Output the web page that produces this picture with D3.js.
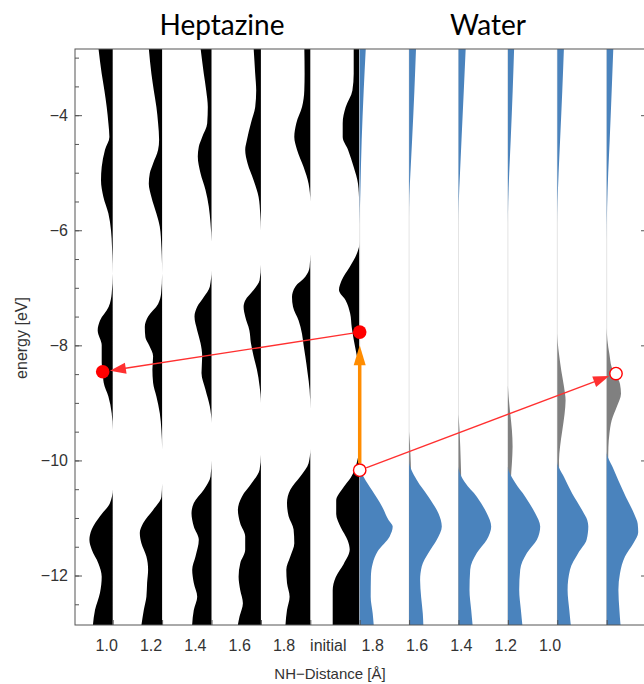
<html>
<head><meta charset="utf-8"></head>
<body style="margin:0;background:white">
<svg id="svg" width="644" height="684"></svg>
<script src="https://cdn.jsdelivr.net/npm/d3@7"></script>
<script>

// column labels along the x axis (left: heptazine, right: water)
var columns = ["1.0", "1.2", "1.4", "1.6", "1.8", "initial", "1.8", "1.6", "1.4", "1.2", "1.0"];
var majorTicks = [-12, -10, -8, -6, -4];
var minorTicks = d3.range(-12.5, -2.9, 0.5);

// DOS per column, [energy eV, density arb.]
var hept10 = [[-2.8,1.45],[-3.28,1.1],[-3.57,0.83],[-3.86,0.6],[-4.14,0.43],[-4.38,0.33],[-4.6,0.77],[-4.9,1.1],[-5.13,1.17],[-5.42,0.93],[-5.71,0.43],[-6.0,0.17],[-6.29,0.07],[-6.75,0],[-7.1,0.1],[-7.33,0.4],[-7.57,1.27],[-7.74,1.5],[-8.0,1.1],[-8.3,1.1],[-8.45,1.0],[-8.65,0.9],[-8.89,0.43],[-9.18,0.1],[-9.47,0],[-10.5,0],[-10.74,0.27],[-10.97,1.27],[-11.2,2.1],[-11.38,2.33],[-11.55,2.1],[-11.79,1.43],[-12.02,1.1],[-12.3,1.27],[-12.6,1.77],[-12.9,2.0]];
var hept12 = [[-2.8,1.35],[-3.28,1.07],[-3.57,0.83],[-3.86,0.57],[-4.14,0.4],[-4.43,0.3],[-4.6,0.4],[-4.84,0.9],[-5.01,1.23],[-5.19,1.33],[-5.42,1.07],[-5.71,0.57],[-5.94,0.23],[-6.29,0.07],[-6.75,0],[-7.1,0.1],[-7.28,0.4],[-7.5,1.4],[-7.68,1.73],[-7.86,1.67],[-8.0,1.3],[-8.19,0.9],[-8.42,0.97],[-8.65,0.9],[-8.89,0.57],[-9.18,0.23],[-9.47,0.07],[-9.8,0],[-10.4,0],[-10.63,0.07],[-10.86,0.9],[-11.09,1.9],[-11.26,2.23],[-11.44,2.07],[-11.67,1.57],[-11.9,1.4],[-12.13,1.5],[-12.37,1.57],[-12.6,1.83],[-12.9,2.1]];
var hept14 = [[-2.8,1.12],[-3.28,0.77],[-3.57,0.53],[-3.86,0.37],[-4.14,0.43],[-4.38,0.93],[-4.55,1.27],[-4.72,1.37],[-5.01,1.1],[-5.3,0.6],[-5.59,0.27],[-5.88,0.1],[-6.2,0],[-6.7,0],[-6.98,0.17],[-7.16,0.77],[-7.33,1.43],[-7.5,1.7],[-7.74,1.43],[-7.96,1.1],[-8.19,0.93],[-8.48,1.0],[-8.77,0.6],[-9.06,0.17],[-9.35,0],[-10.0,0],[-10.28,0.1],[-10.51,0.77],[-10.74,1.77],[-10.92,2.0],[-11.15,1.77],[-11.38,1.27],[-11.67,1.6],[-11.9,1.93],[-12.13,1.77],[-12.37,1.43],[-12.6,1.77],[-12.9,1.95]];
var hept16 = [[-2.8,0.74],[-3.28,0.57],[-3.57,0.47],[-3.86,0.57],[-4.14,1.0],[-4.43,1.4],[-4.6,1.57],[-4.84,1.33],[-5.13,0.73],[-5.42,0.23],[-5.71,0.07],[-6.0,0],[-6.6,0],[-6.87,0.13],[-7.04,0.73],[-7.22,1.57],[-7.33,1.73],[-7.5,1.57],[-7.74,1.15],[-7.96,1.0],[-8.19,0.73],[-8.42,0.4],[-8.71,0.13],[-9.0,0],[-9.9,0],[-10.16,0.13],[-10.39,0.9],[-10.63,1.9],[-10.86,2.3],[-11.09,2.07],[-11.32,1.57],[-11.55,1.57],[-11.79,2.07],[-12.02,2.23],[-12.25,2.07],[-12.48,1.8],[-12.71,2.13],[-12.9,2.35]];
var hept18 = [[-2.8,0.6],[-3.28,0.57],[-3.57,0.6],[-3.86,0.83],[-4.14,1.4],[-4.38,1.6],[-4.6,1.33],[-4.9,0.67],[-5.19,0.17],[-5.5,0],[-6.4,0],[-6.64,0.07],[-6.81,0.5],[-6.98,1.5],[-7.16,1.83],[-7.33,1.73],[-7.57,1.17],[-7.8,0.83],[-8.0,0.67],[-8.19,0.5],[-8.48,0.27],[-8.77,0.07],[-9.1,0],[-9.8,0],[-10.05,0.17],[-10.28,1.0],[-10.51,2.0],[-10.74,2.33],[-10.97,2.17],[-11.2,1.67],[-11.44,1.6],[-11.67,2.0],[-11.9,2.4],[-12.13,2.33],[-12.37,2.07],[-12.6,2.33],[-12.9,2.5]];
var heptInit = [[-2.8,0.6],[-3.28,0.6],[-3.57,0.73],[-3.86,1.4],[-4.14,1.7],[-4.38,1.7],[-4.6,1.17],[-4.9,0.6],[-5.19,0.17],[-5.5,0.05],[-5.9,0],[-6.2,0],[-6.4,0.27],[-6.64,1.0],[-6.87,1.8],[-7.04,2.07],[-7.22,1.4],[-7.45,0.95],[-7.68,0.8],[-7.9,0.6],[-8.08,0.4],[-8.3,0.17],[-8.5,0],[-9.8,0],[-9.95,0.17],[-10.16,0.5],[-10.3,0.9],[-10.46,1.6],[-10.7,2.35],[-10.93,2.35],[-11.16,1.9],[-11.39,1.2],[-11.55,1.0],[-11.8,1.6],[-12.03,2.4],[-12.26,2.7],[-12.55,2.7],[-12.9,2.7]];

var waterInit = [[-2.8,0.62],[-3.57,0.4],[-4.43,0.2],[-5.3,0.07],[-5.9,0],[-10.1,0],[-10.29,0.4],[-10.52,1.23],[-10.8,2.23],[-11.04,2.9],[-11.15,3.3],[-11.32,3.0],[-11.58,1.8],[-11.79,1.3],[-12.02,1.12],[-12.37,1.1],[-12.66,1.3],[-12.9,1.42]];
var water18 = [[-2.8,0.7],[-3.57,0.53],[-4.43,0.3],[-5.01,0.13],[-5.4,0.03],[-5.8,0],[-10.0,0],[-10.34,0.77],[-10.63,1.93],[-10.92,2.93],[-11.15,3.27],[-11.38,2.77],[-11.61,1.93],[-11.84,1.27],[-12.08,1.1],[-12.37,1.2],[-12.66,1.37],[-12.9,1.43]];
var water16 = [[-2.8,0.73],[-3.57,0.53],[-4.43,0.3],[-5.01,0.15],[-5.5,0.03],[-5.9,0],[-10.1,0],[-10.39,0.67],[-10.63,1.83],[-10.92,2.83],[-11.15,3.27],[-11.38,2.83],[-11.61,1.83],[-11.9,1.17],[-12.25,1.1],[-12.6,1.27],[-12.9,1.43]];
var water14 = [[-2.8,0.63],[-3.57,0.48],[-4.43,0.28],[-5.01,0.13],[-5.5,0.03],[-5.9,0],[-10.1,0],[-10.39,0.73],[-10.63,1.73],[-10.92,2.73],[-11.15,3.23],[-11.38,2.9],[-11.61,1.9],[-11.9,1.23],[-12.25,1.13],[-12.6,1.3],[-12.9,1.47]];
var water12 = [[-2.8,0.67],[-3.57,0.5],[-4.43,0.28],[-5.01,0.13],[-5.5,0.03],[-5.9,0],[-10.02,0],[-10.29,0.67],[-10.58,1.5],[-10.87,2.5],[-11.04,3.0],[-11.15,3.1],[-11.38,2.93],[-11.61,2.1],[-11.9,1.27],[-12.25,1.03],[-12.6,1.2],[-12.9,1.37]];
var water10 = [[-2.8,0.67],[-3.57,0.5],[-4.43,0.3],[-5.01,0.15],[-5.6,0.04],[-6.2,0],[-9.85,0],[-10.12,0.6],[-10.35,1.17],[-10.64,1.93],[-10.93,2.75],[-11.1,3.1],[-11.25,3.15],[-11.44,2.67],[-11.67,1.83],[-11.96,1.33],[-12.25,1.17],[-12.6,1.27],[-12.9,1.4]];

// gray part of the water columns (drawn under the blue)
var grayInit = [[-10.1,0],[-10.4,0.2],[-12.9,0.2]];
var gray18 = [[-9.5,0],[-9.76,0.1],[-10.34,0.2],[-10.63,0.2],[-12.9,0.2]];
var gray16 = [[-9.2,0],[-9.47,0.1],[-10.05,0.23],[-10.34,0.27],[-10.63,0.23],[-12.9,0.2]];
var gray14 = [[-8.7,0],[-8.89,0.07],[-9.18,0.23],[-9.47,0.4],[-9.76,0.47],[-10.05,0.4],[-10.34,0.3],[-12.9,0.2]];
var gray12 = [[-7.8,0],[-7.96,0.05],[-8.15,0.17],[-8.44,0.4],[-8.72,0.67],[-8.96,0.83],[-9.19,0.73],[-9.48,0.5],[-9.77,0.27],[-10.0,0.17],[-10.3,0.2],[-12.9,0.2]];
var gray10 = [[-7.7,0],[-7.91,0.07],[-8.15,0.27],[-8.38,0.5],[-8.67,1.33],[-8.84,1.43],[-9.07,1.0],[-9.3,0.5],[-9.54,0.27],[-9.77,0.17],[-10.0,0.15],[-10.3,0.2],[-12.9,0.2]];

var heptCols = [hept10, hept12, hept14, hept16, hept18, heptInit];     // columns 0..5
var waterCols = [waterInit, water18, water16, water14, water12, water10]; // columns 5..10
var grayCols = [grayInit, gray18, gray16, gray14, gray12, gray10];

// electrons (filled) and holes (open); dos < 0 means left of the baseline
var states = [
  {col: 5, e: -7.77, dos: 0, hole: false},
  {col: 0, e: -8.46, dos: -1.0, hole: false},
  {col: 5, e: -10.17, dos: 0, hole: true},
  {col: 10, e: -8.49, dos: 0.93, hole: true}
];
var excitationTop = -8.0;

var pLeft = 75, pTop = 49, pBottom = 625, pRight = 648;

var svg = d3.select("#svg");
var y = d3.scaleLinear().domain([-12.86, -2.85]).range([pBottom, pTop]);
var xBase = d3.scalePoint().domain(d3.range(columns.length)).range([112.7, 606.7]);
var xLab = d3.scalePoint().domain(d3.range(columns.length)).range([106.7, 550]);
var w = d3.scaleLinear().domain([0, 1]).range([0, 10]);

svg.append("clipPath").attr("id", "clip")
  .append("rect").attr("x", pLeft).attr("y", pTop).attr("width", pRight - pLeft).attr("height", pBottom - pTop);

var plot = svg.append("g").attr("clip-path", "url(#clip)");

function area(col, sign) {
  return d3.area().curve(d3.curveMonotoneY)
    .y(d => y(d[0]))
    .x0(xBase(col))
    .x1(d => xBase(col) + sign * w(d[1]));
}

plot.selectAll("path.hept").data(heptCols).join("path").classed("hept", true)
  .attr("d", (d, i) => area(i, -1)(d))
  .style("fill", "black");

plot.selectAll("line.base").data(d3.range(5, 11)).join("line").classed("base", true)
  .attr("x1", d => xBase(d)).attr("x2", d => xBase(d))
  .attr("y1", pTop).attr("y2", pBottom)
  .style("stroke", "#e4e4e4").style("stroke-width", 1);

plot.selectAll("path.gray").data(grayCols).join("path").classed("gray", true)
  .attr("d", (d, i) => area(i + 5, 1)(d))
  .style("fill", "#808080");

plot.selectAll("path.water").data(waterCols).join("path").classed("water", true)
  .attr("d", (d, i) => area(i + 5, 1)(d))
  .style("fill", "#4a83bd");

// axes
var font = "'Liberation Sans', Arial, sans-serif";

svg.append("g").attr("transform", "translate(" + pLeft + ",0)")
  .call(d3.axisLeft(y).tickValues(minorTicks).tickSize(-4).tickFormat(""))
  .call(g => g.select(".domain").remove())
  .selectAll("line").style("stroke", "#555");

svg.append("g").attr("transform", "translate(" + pLeft + ",0)")
  .call(d3.axisLeft(y).tickValues(majorTicks).tickSize(-7).tickPadding(7))
  .call(g => g.select(".domain").remove())
  .call(g => g.selectAll("line").style("stroke", "#555"))
  .selectAll("text").style("font-family", font).style("font-size", "16px").style("fill", "#333");

svg.append("g").attr("transform", "translate(" + pRight + ",0)")
  .call(d3.axisRight(y).tickValues(majorTicks).tickSize(-7).tickFormat(""))
  .call(g => g.select(".domain").remove())
  .selectAll("line").style("stroke", "#555");

svg.append("g").attr("transform", "translate(0," + pBottom + ")")
  .call(d3.axisBottom(xBase).tickSize(-5).tickFormat(""))
  .call(g => g.select(".domain").remove())
  .selectAll("line").style("stroke", "#555");

svg.append("rect")
  .attr("x", pLeft).attr("y", pTop).attr("width", pRight - pLeft).attr("height", pBottom - pTop)
  .style("fill", "none").style("stroke", "#555").style("stroke-width", 1);

svg.selectAll("text.xl").data(columns).join("text").classed("xl", true)
  .attr("x", (d, i) => xLab(i)).attr("y", 651)
  .attr("text-anchor", "middle")
  .style("font-family", font).style("font-size", "16px").style("fill", "#333")
  .text(d => d);

svg.append("text")
  .attr("x", 330).attr("y", 679).attr("text-anchor", "middle")
  .style("font-family", font).style("font-size", "15px").style("fill", "#333")
  .text("NH\u2212Distance [\u00c5]");

svg.append("text")
  .attr("transform", "translate(27,338) rotate(-90)").attr("text-anchor", "middle")
  .style("font-family", font).style("font-size", "16px").style("fill", "#333")
  .text("energy [eV]");

// titles
svg.append("text").attr("x", 222).attr("y", 35).attr("text-anchor", "middle")
  .style("font-family", "Lato, 'Open Sans', sans-serif").style("font-size", "28px")
  .text("Heptazine");
svg.append("text").attr("x", 488).attr("y", 35).attr("text-anchor", "middle")
  .style("font-family", "Lato, 'Open Sans', sans-serif").style("font-size", "28px")
  .text("Water");

// transitions
function pos(s) { return [xBase(s.col) + w(s.dos), y(s.e)]; }
var r = 6.8;

function arrow(p0, p1, color, width, headLen, headW, r0, r1) {
  var dx = p1[0] - p0[0], dy = p1[1] - p0[1];
  var L = Math.sqrt(dx * dx + dy * dy), ux = dx / L, uy = dy / L;
  var a = [p0[0] + ux * r0, p0[1] + uy * r0];
  var tip = [p1[0] - ux * r1, p1[1] - uy * r1];
  var b = [tip[0] - ux * headLen, tip[1] - uy * headLen];
  svg.append("line")
    .attr("x1", a[0]).attr("y1", a[1]).attr("x2", b[0] + ux * 2).attr("y2", b[1] + uy * 2)
    .style("stroke", color).style("stroke-width", width);
  var px = -uy * headW / 2, py = ux * headW / 2;
  svg.append("path")
    .attr("d", "M" + tip + "L" + [b[0] + px, b[1] + py] + "L" + [b[0] - px, b[1] - py] + "Z")
    .style("fill", color);
}

var s0 = pos(states[0]), s1 = pos(states[1]), s2 = pos(states[2]), s3 = pos(states[3]);
arrow(s2, [s2[0], y(excitationTop)], "#ff8c00", 3.5, 20, 12, r, 0);
arrow(s0, s1, "#ff3030", 1.4, 16, 11, r, r + 0.5);
arrow(s2, s3, "#ff3030", 1.4, 16, 11, r, r + 0.5);

svg.selectAll("circle.st").data(states).join("circle").classed("st", true)
  .attr("cx", d => pos(d)[0]).attr("cy", d => pos(d)[1]).attr("r", d => d.hole ? r - 0.6 : r)
  .style("fill", d => d.hole ? "white" : "#ff0000")
  .style("stroke", "#ff0000").style("stroke-width", d => d.hole ? 1.4 : 0);

</script>
</body>
</html>
